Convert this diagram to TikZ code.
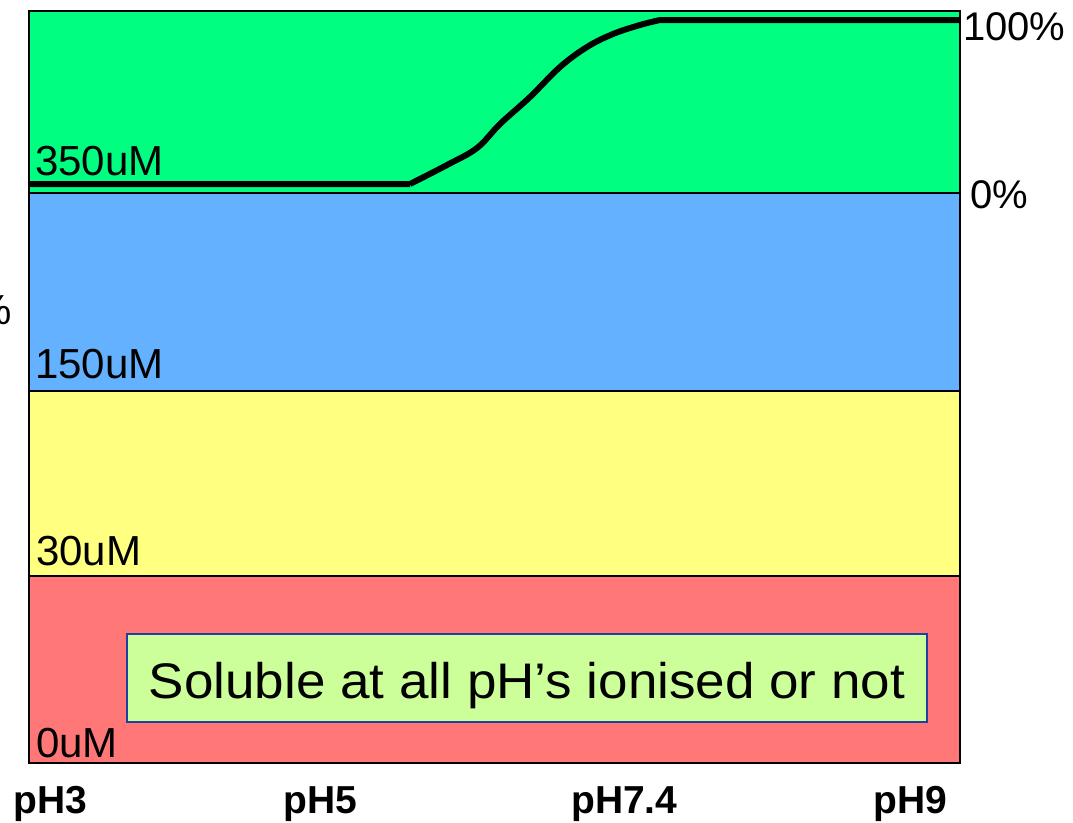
\documentclass[tikz,border=0pt]{standalone}
\usepackage{fontspec}
\setmainfont{Liberation Sans}
\definecolor{bandgreen}{RGB}{0,255,128}
\definecolor{bandblue}{RGB}{99,177,255}
\definecolor{bandyellow}{RGB}{255,255,128}
\definecolor{bandred}{RGB}{255,119,119}
\definecolor{boxfill}{RGB}{204,255,153}
\definecolor{boxline}{RGB}{32,64,160}
\tikzset{
  bandline/.style={draw=black, line width=1.5pt},
  conclabel/.style={anchor=base west, inner sep=0pt, font=\fontsize{42}{48}\selectfont},
  pctlabel/.style={anchor=base west, inner sep=0pt, font=\fontsize{40}{46}\selectfont},
  phlabel/.style={anchor=base west, inner sep=0pt, font=\fontsize{39}{45}\selectfont\bfseries},
  notebox/.style={draw=boxline, line width=2pt, fill=boxfill, minimum width=800pt, minimum height=88pt, inner sep=0pt},
  notetext/.style={anchor=base, inner sep=0pt, xscale=1.06, font=\fontsize{50}{56}\selectfont},
  curve/.style={line width=6pt, line join=round}
}
\begin{document}
\begin{tikzpicture}[x=1pt,y=-1pt]
\useasboundingbox[fill=white] (0,0) rectangle (1073,822);
% bands
\fill[bandgreen] (29,11) rectangle (960,193);
\fill[bandblue] (29,193) rectangle (960,391);
\fill[bandyellow] (29,391) rectangle (960,576);
\fill[bandred] (29,576) rectangle (960,763);
\draw[bandline] (29,193) -- (960,193);
\draw[bandline] (29,391) -- (960,391);
\draw[bandline] (29,576) -- (960,576);
\draw[bandline] (29,11) rectangle (960,763);
% curve
\draw[curve] (29,184) -- (410,184)
  plot[smooth, tension=0.6] coordinates {(410,184) (447,165) (477,148) (500,124) (530,97) (560,67) (587,47) (613,34) (640,25) (660,20)}
  -- (960,20);
% labels inside
\node[conclabel] (c350) at (35,175) {350uM};
\node[conclabel] (c150) at (35,378) {150uM};
\node[conclabel] (c30) at (36,565) {30uM};
\node[conclabel] (c0) at (36,757) {0uM};
% right labels
\node[pctlabel] (p100) at (963,40) {100\%};
\node[pctlabel] (p0) at (970,208) {0\%};
% left clipped percent (cut off by the picture edge, as in the reference)
\node[anchor=base east, inner sep=0pt, font=\fontsize{42}{48}\selectfont] (pleft) at (12,324) {\%};
% pH labels
\node[phlabel] (ph3) at (13,813) {pH3};
\node[phlabel] (ph5) at (283,813) {pH5};
\node[phlabel] (ph74) at (571,813) {pH7.4};
\node[phlabel] (ph9) at (873,813) {pH9};
% note box
\node[notebox] (note) at (527,678) {};
\node[notetext] (notet) at (527,698) {Soluble at all pH’s ionised or not};
\end{tikzpicture}
\end{document}
